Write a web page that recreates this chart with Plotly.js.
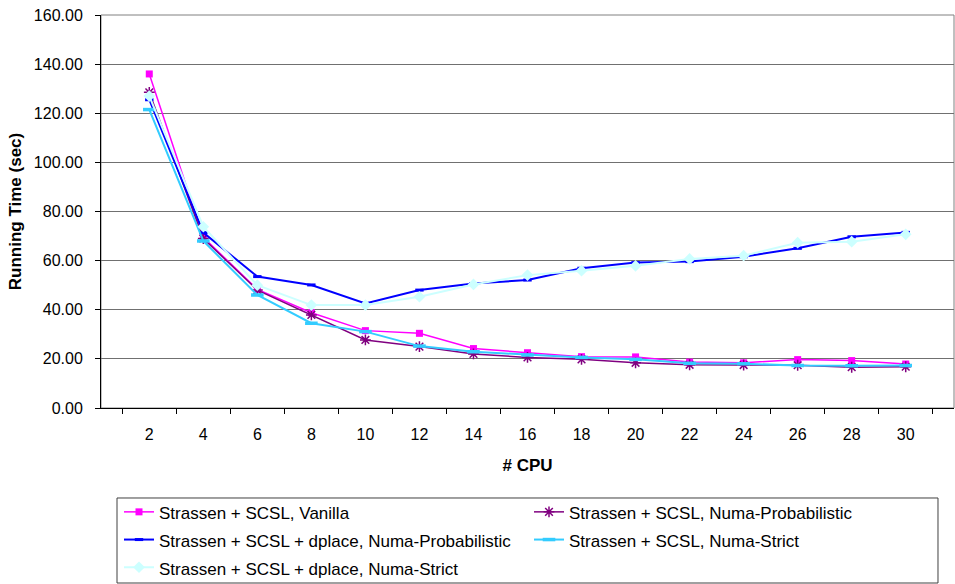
<!DOCTYPE html>
<html>
<head>
<meta charset="utf-8">
<script src="https://cdn.plot.ly/plotly-3.0.1.min.js"></script>
<style>html,body{margin:0;padding:0;background:#fff;}#chart{width:955px;height:584px;}</style>
</head>
<body>
<div id="chart"></div>
<script>
const cpus = ['2','4','6','8','10','12','14','16','18','20','22','24','26','28','30'];
const vanilla      = [136.0, 69.5, 48.3, 38.8, 31.5, 30.4, 24.2, 22.5, 20.9, 20.8, 18.7, 18.4, 19.7, 19.3, 17.9];
const numaProb     = [128.5, 69.0, 48.0, 37.9, 27.7, 25.0, 22.0, 20.6, 19.8, 18.4, 17.6, 17.5, 17.4, 16.6, 16.8];
const dplaceProb   = [125.5, 71.4, 53.5, 50.1, 42.6, 48.0, 50.7, 52.1, 56.9, 59.2, 59.6, 61.6, 65.0, 69.7, 71.5];
const numaStrict   = [121.5, 68.0, 46.0, 34.5, 31.1, 25.2, 22.9, 21.6, 20.6, 19.8, 18.2, 18.0, 17.3, 17.2, 17.3];
const dplaceStrict = [127.0, 73.8, 50.0, 41.9, 41.9, 45.3, 50.3, 54.1, 55.9, 57.9, 60.7, 62.0, 67.3, 67.7, 70.7];

const names = [
  'Strassen + SCSL, Vanilla',
  'Strassen + SCSL, Numa-Probabilistic',
  'Strassen + SCSL + dplace, Numa-Probabilistic',
  'Strassen + SCSL, Numa-Strict',
  'Strassen + SCSL + dplace, Numa-Strict'
];

const lbl = s => '<span style="font-size:17px">' + s + '</span>';

const traces = [
  {x: cpus, y: vanilla, name: lbl(names[0]), mode: 'lines+markers',
   line: {color: '#FF00FF', width: 1.5},
   marker: {symbol: 'square', size: 7, color: '#FF00FF'}},
  {x: cpus, y: numaProb, name: lbl(names[1]), mode: 'lines+markers',
   line: {color: '#800080', width: 1.5},
   marker: {symbol: 'asterisk-open', size: 9, color: '#800080', line: {color: '#800080', width: 1.5}}},
  {x: cpus, y: dplaceProb, name: lbl(names[2]), mode: 'lines+markers',
   line: {color: '#0000FF', width: 2},
   marker: {symbol: 'line-ew-open', size: 6, color: '#0000FF', line: {color: '#0000FF', width: 3}}},
  {x: cpus, y: numaStrict, name: lbl(names[3]), mode: 'lines+markers',
   line: {color: '#33CCFF', width: 2},
   marker: {symbol: 'line-ew-open', size: 9, color: '#33CCFF', line: {color: '#33CCFF', width: 3.5}}},
  {x: cpus, y: dplaceStrict, name: lbl(names[4]), mode: 'lines+markers',
   line: {color: '#CCFFFF', width: 2},
   marker: {symbol: 'diamond', size: 9, color: '#CCFFFF'}}
];

const layout = {
  width: 955, height: 584,
  margin: {l: 101, r: 1, t: 15, b: 176, autoexpand: false},
  paper_bgcolor: '#ffffff', plot_bgcolor: '#ffffff',
  font: {family: '"Liberation Sans", Arial, sans-serif', size: 16, color: '#000'},
  showlegend: true,
  xaxis: {
    type: 'category', tickson: 'boundaries', ticks: 'outside', ticklen: 5, tickcolor: '#000',
    showline: true, linecolor: '#000', linewidth: 1, showgrid: false, zeroline: false,
    tickfont: {size: 16}, automargin: false, ticklabelstandoff: 12,
    title: {text: '# CPU', font: {size: 17, weight: 'bold'}, standoff: 16}
  },
  yaxis: {
    range: [0, 160], dtick: 20, tickformat: '.2f', ticks: 'outside', ticklen: 5, tickcolor: '#000',
    showline: true, linecolor: '#000', linewidth: 1,
    showgrid: true, gridcolor: '#707070', gridwidth: 1, zeroline: false,
    tickfont: {size: 16}, automargin: false, ticklabelstandoff: 9,
    title: {text: 'Running Time (sec)', font: {size: 17, weight: 'bold'}, standoff: 7}
  },
  legend: {
    orientation: 'h', x: 0.0211, xanchor: 'left', y: -0.2163, yanchor: 'top',
    entrywidth: 365, borderwidth: 0, bgcolor: 'rgba(0,0,0,0)',
    font: {size: 19}, traceorder: 'normal'
  },
  shapes: [
    {type: 'rect', xref: 'paper', yref: 'paper', x0: 0, x1: 1, y0: 0, y1: 1,
     line: {color: '#808080', width: 1}, layer: 'below'},
    {type: 'rect', xref: 'paper', yref: 'paper', x0: 0.01876, x1: 0.98124, y0: -0.229, y1: -0.4453,
     line: {color: '#404040', width: 1}, layer: 'above'}
  ]
};

Plotly.newPlot('chart', traces, layout, {displayModeBar: false, staticPlot: true});
</script>
</body>
</html>
